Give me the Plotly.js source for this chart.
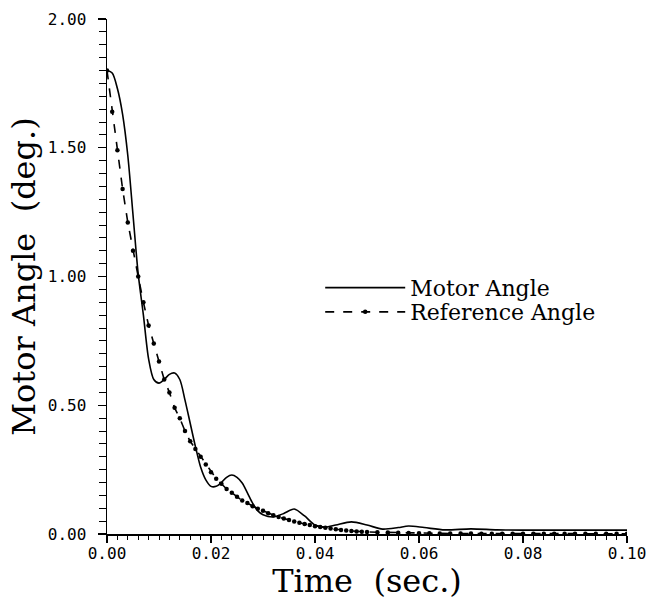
<!DOCTYPE html>
<html>
<head>
<meta charset="utf-8">
<script src="https://cdn.plot.ly/plotly-3.0.1.min.js"></script>
<style>
html,body{margin:0;padding:0;background:#fff;}
#chart{width:648px;height:600px;}
</style>
</head>
<body>
<div id="chart"></div>
<script>
// Motor angle (solid line)
const motorTime = [0, 0.001, 0.002, 0.003, 0.004, 0.005, 0.006, 0.007, 0.008, 0.009, 0.010,
  0.011, 0.012, 0.013, 0.014, 0.015, 0.016, 0.017, 0.018, 0.019, 0.020,
  0.021, 0.022, 0.023, 0.024, 0.025, 0.026, 0.027, 0.028, 0.029, 0.030,
  0.032, 0.034, 0.036, 0.038, 0.040, 0.042, 0.044, 0.047, 0.050, 0.053,
  0.056, 0.058, 0.061, 0.065, 0.070, 0.075, 0.080, 0.090, 0.100];
const motorAngle = [1.80, 1.79, 1.73, 1.63, 1.47, 1.24, 1.01, 0.85, 0.68, 0.60, 0.586,
  0.60, 0.62, 0.625, 0.60, 0.52, 0.43, 0.34, 0.26, 0.21, 0.185,
  0.185, 0.20, 0.22, 0.229, 0.22, 0.198, 0.16, 0.12, 0.09, 0.075,
  0.066, 0.08, 0.097, 0.07, 0.035, 0.027, 0.035, 0.047, 0.035, 0.019,
  0.025, 0.031, 0.025, 0.016, 0.02, 0.016, 0.015, 0.015, 0.015];

// Reference angle (dashed line with dots)
const refTime = [0, 0.001, 0.002, 0.003, 0.004, 0.005, 0.006, 0.007, 0.008, 0.009, 0.010,
  0.011, 0.012, 0.013, 0.014, 0.015, 0.016, 0.017, 0.018, 0.019, 0.020,
  0.021, 0.022, 0.023, 0.024, 0.025, 0.026, 0.027, 0.028, 0.029, 0.030,
  0.031, 0.032, 0.033, 0.034, 0.035, 0.036, 0.037, 0.038, 0.039, 0.040,
  0.041, 0.042, 0.043, 0.044, 0.045, 0.046, 0.047, 0.048, 0.049, 0.050,
  0.052, 0.054, 0.056, 0.058, 0.060, 0.062, 0.064, 0.066, 0.068, 0.070,
  0.072, 0.074, 0.076, 0.078, 0.080, 0.082, 0.084, 0.086, 0.088, 0.090,
  0.092, 0.094, 0.096, 0.098, 0.100];
const refAngle = [1.80, 1.64, 1.49, 1.34, 1.21, 1.10, 1.00, 0.90, 0.81, 0.74, 0.67,
  0.60, 0.55, 0.49, 0.45, 0.40, 0.36, 0.33, 0.30, 0.27, 0.24,
  0.215, 0.195, 0.175, 0.16, 0.145, 0.13, 0.12, 0.108, 0.098, 0.09,
  0.081, 0.073, 0.066, 0.06, 0.054, 0.049, 0.044, 0.039, 0.035, 0.03,
  0.027, 0.024, 0.021, 0.018, 0.016, 0.014, 0.012, 0.01, 0.009, 0.008,
  0.007, 0.006, 0.005, 0.004, 0.003, 0.003, 0.002, 0.002, 0.002, 0.002,
  0.001, 0.001, 0.001, 0.001, 0.001, 0.001, 0.001, 0.001, 0.001, 0.001,
  0.001, 0.001, 0.001, 0.001, 0.001];

const seriesNames = ["Motor Angle", "Reference Angle"];
const xTickVals = [0, 0.02, 0.04, 0.06, 0.08, 0.10];
const xTickText = ["0.00", "0.02", "0.04", "0.06", "0.08", "0.10"];
const yTickVals = [0, 0.5, 1.0, 1.5, 2.0];
const yTickText = ["0.00", "0.50", "1.00", "1.50", "2.00"];
const xTitle = "Time  (sec.)";
const yTitle = "Motor Angle  (deg.)";

const traces = [
  {x: motorTime, y: motorAngle, name: seriesNames[0], type: "scatter", mode: "lines",
   legend: "legend",
   line: {color: "#000", width: 1.6, shape: "spline", smoothing: 0.8}},
  {x: refTime, y: refAngle, name: seriesNames[1], type: "scatter", mode: "lines+markers",
   legend: "legend2",
   line: {color: "#000", width: 1.6, dash: "dash"},
   marker: {color: "#000", size: 4.5, symbol: "circle"}}
];

const tickFont = {family: "DejaVu Sans Mono", size: 16, color: "#000"};
const titleFont = {family: "DejaVu Serif", size: 32, color: "#000"};
const legendFont = {family: "DejaVu Serif", size: 22, color: "#000"};
const legendBase = {xanchor: "left", yanchor: "middle", font: legendFont,
  bgcolor: "rgba(0,0,0,0)", itemwidth: 80, borderwidth: 0};

const layout = {
  width: 648, height: 600,
  margin: {l: 107, r: 21, t: 19, b: 66},
  paper_bgcolor: "#fff", plot_bgcolor: "#fff",
  showlegend: true,
  legend: Object.assign({x: 0.41, y: 0.478}, legendBase),
  legend2: Object.assign({x: 0.41, y: 0.431}, legendBase),
  xaxis: {range: [0, 0.1], tickmode: "array", tickvals: xTickVals, ticktext: xTickText,
    showgrid: false, zeroline: false, ticklabeloverflow: "allow", ticklabelstandoff: -3,
    showline: true, linecolor: "#000", linewidth: 1.5, ticks: "outside", ticklen: 7, tickwidth: 1.3,
    tickcolor: "#000", tickfont: tickFont,
    minor: {dtick: 0.002, ticks: "outside", ticklen: 4, tickwidth: 1, tickcolor: "#000", showgrid: false},
    title: {text: xTitle, font: titleFont, standoff: 7}},
  yaxis: {range: [0, 2], tickmode: "array", tickvals: yTickVals, ticktext: yTickText,
    showgrid: false, zeroline: false,
    showline: true, linecolor: "#000", linewidth: 1.5, ticks: "outside", ticklen: 8, tickwidth: 1.3,
    tickcolor: "#000", tickfont: tickFont, ticklabelstandoff: 8,
    minor: {dtick: 0.05, ticks: "outside", ticklen: 7, tickwidth: 1, tickcolor: "#000", showgrid: false},
    title: {text: yTitle, font: titleFont, standoff: 2}}
};

Plotly.newPlot("chart", traces, layout, {displayModeBar: false, staticPlot: true});
</script>
</body>
</html>
